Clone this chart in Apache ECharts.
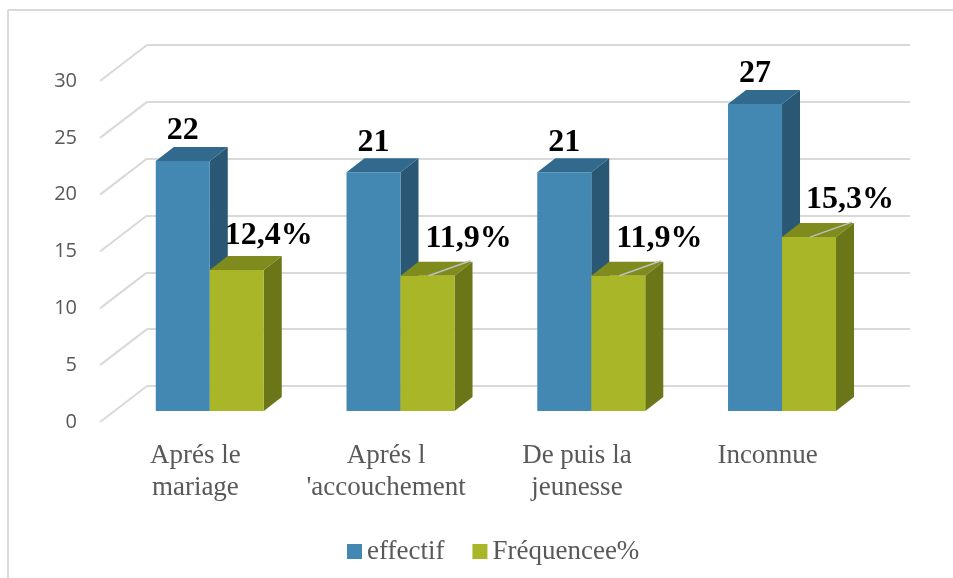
<!DOCTYPE html>
<html>
<head>
<meta charset="utf-8">
<script src="https://cdn.jsdelivr.net/npm/echarts@6/dist/echarts.min.js"></script>
<style>html,body{margin:0;padding:0;background:#fff;}#chart{width:953px;height:578px;}</style>
</head>
<body>
<div id="chart"></div>
<script>
const categories = ['Aprés le\nmariage', "Aprés l\n'accouchement", 'De puis la\njeunesse', 'Inconnue'];
const seriesNames = ['effectif', 'Fréquencee%'];
const effectif = [22, 21, 21, 27];
const frequence = [12.4, 11.9, 11.9, 15.3];
const yMin = 0, yMax = 30, yInterval = 5;
const yTicks = [0, 5, 10, 15, 20, 25, 30];

const COLORS = {
  blue: {front: '#4288B3', side: '#2A5874', top: '#316A8D'},
  green: {front: '#A9B627', side: '#6B7619', top: '#7F8B1C'}
};
const DX = 18, DY = -14, BW = 54;   // bar depth offsets and width
const WALL_DX = 47, WALL_DY = -36;  // floor depth
const SERIF = 'Liberation Serif';

const chart = echarts.init(document.getElementById('chart'));

function fmt(v, pct) {
  return pct ? String(v).replace('.', ',') + '%' : String(v);
}

function barRender(colors, isGreen) {
  return function (params, api) {
    const c = api.value(0), v = api.value(1);
    const top = api.coord([c, v]);
    const base = api.coord([c, 0]);
    const x0 = isGreen ? top[0] : top[0] - BW;
    const ty = top[1], by = base[1];
    const children = [
      {type: 'polygon', shape: {points: [[x0 + BW, ty], [x0 + BW + DX, ty + DY], [x0 + BW + DX, by + DY], [x0 + BW, by]]},
        style: {fill: colors.side}},
      {type: 'polygon', shape: {points: [[x0, ty], [x0 + DX, ty + DY], [x0 + BW + DX, ty + DY], [x0 + BW, ty]]},
        style: {fill: colors.top}},
      {type: 'rect', shape: {x: x0, y: ty, width: BW, height: by - ty}, style: {fill: colors.front}}
    ];
    const cx = x0 + BW / 2;
    let lx, ly;
    if (!isGreen) {
      lx = cx; ly = ty - 30;
    } else if (params.dataIndex === 0) {
      lx = cx + 32; ly = ty - 34;
    } else {
      lx = cx + 41; ly = ty - 37;
      children.push({type: 'line', shape: {x1: cx + 1, y1: ty, x2: cx + 43, y2: ty - 15},
        style: {stroke: '#BFBFBF', lineWidth: 1.5}});
    }
    children.push({type: 'text', z2: 10, style: {
      text: fmt(v, isGreen), x: lx, y: ly, align: 'center', verticalAlign: 'middle',
      font: 'bold 32px "Liberation Serif", serif', fill: '#000'}});
    return {type: 'group', children: children};
  };
}

const option = {
  animation: false,
  backgroundColor: '#fff',
  graphic: [
    {type: 'line', shape: {x1: 8, y1: 10, x2: 953, y2: 10}, style: {stroke: '#D9D9D9', lineWidth: 2}},
    {type: 'line', shape: {x1: 8, y1: 10, x2: 8, y2: 578}, style: {stroke: '#D9D9D9', lineWidth: 2}}
  ],
  legend: {
    data: seriesNames,
    left: 342, top: 533,
    icon: 'rect', itemWidth: 15, itemHeight: 15, itemGap: 28,
    textStyle: {fontFamily: SERIF, fontSize: 27, color: '#595959'}
  },
  grid: [
    {left: 147, right: 43, top: 45, bottom: 192},          // back wall
    {left: 100, right: 90, top: 81, bottom: 156},          // front plane
    {left: 114.4, right: 75.6, top: 70, bottom: 167}       // bar plane
  ],
  xAxis: [
    {gridIndex: 0, type: 'category', data: categories, show: false},
    {gridIndex: 1, type: 'category', data: categories,
      axisLine: {show: false}, axisTick: {show: false},
      axisLabel: {margin: 18, fontFamily: SERIF, fontSize: 27,
        lineHeight: 32, color: '#595959', interval: 0}},
    {gridIndex: 2, type: 'category', data: categories, show: false}
  ],
  yAxis: [
    {gridIndex: 0, type: 'value', min: yMin, max: yMax, interval: yInterval,
      axisLabel: {show: false}, axisLine: {show: false}, axisTick: {show: false},
      splitLine: {show: true, lineStyle: {color: '#D9D9D9', width: 2}}},
    {gridIndex: 1, type: 'value', min: yMin, max: yMax, interval: yInterval,
      axisLine: {show: false}, axisTick: {show: false}, splitLine: {show: false},
      axisLabel: {margin: 23, fontFamily: 'Open Sans', fontSize: 20, color: '#595959'}},
    {gridIndex: 2, type: 'value', min: yMin, max: yMax, interval: yInterval, show: false,
      splitLine: {show: false}}
  ],
  series: [
    {
      name: 'floorLines', type: 'custom', xAxisIndex: 1, yAxisIndex: 1, silent: true,
      data: yTicks.map(v => [0, v]),
      renderItem: function (params, api) {
        const y = api.coord([0, api.value(1)])[1];
        const x = params.coordSys.x;
        return {type: 'line', shape: {x1: x, y1: y, x2: x + WALL_DX, y2: y + WALL_DY},
          style: {stroke: '#D9D9D9', lineWidth: 2}};
      }
    },
    {
      name: seriesNames[0], type: 'custom', xAxisIndex: 2, yAxisIndex: 2,
      itemStyle: {color: COLORS.blue.front},
      data: effectif.map((v, i) => [i, v]),
      renderItem: barRender(COLORS.blue, false)
    },
    {
      name: seriesNames[1], type: 'custom', xAxisIndex: 2, yAxisIndex: 2,
      itemStyle: {color: COLORS.green.front},
      data: frequence.map((v, i) => [i, v]),
      renderItem: barRender(COLORS.green, true)
    }
  ]
};
chart.setOption(option);
</script>
</body>
</html>
